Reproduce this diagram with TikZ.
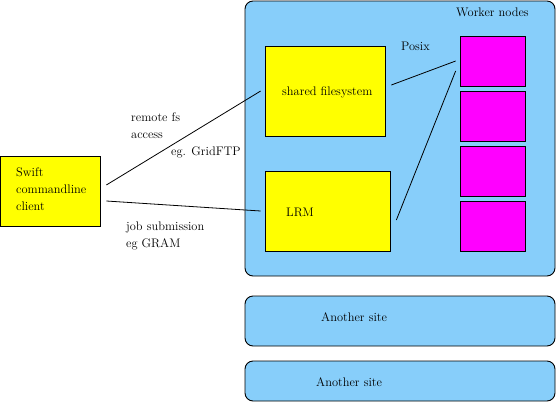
\documentclass[tikz,border=0pt]{standalone}
\usepackage{xcolor}
\usepackage{tikz}
\definecolor{siteblue}{RGB}{135, 206, 250}
\definecolor{boxyellow}{RGB}{255, 255, 0}
\definecolor{workermag}{RGB}{255, 0, 255}

\tikzset{
    sitebox/.style={draw, fill=siteblue, rounded corners=8pt, line width=0.9pt, minimum width=310pt, inner sep=0pt},
    servicebox/.style={draw, fill=boxyellow, line width=0.7pt, inner sep=0pt},
    workerbox/.style={draw, fill=workermag, line width=0.7pt, minimum width=65pt, minimum height=50pt, inner sep=0pt},
    link/.style={line width=0.8pt},
    txt/.style={anchor=west, inner sep=0pt, align=left, font=\fontsize{12.4}{17}\selectfont}
}

\begin{document}
\begin{tikzpicture}[x=1pt, y=-1pt]
            \useasboundingbox (0,0) rectangle (557,402);
            % sites
            \node[sitebox, minimum height=275pt] (site) at (400,138.5) {};
            \node[sitebox, minimum height=50pt] (otherA) at (400,321) {};
            \node[sitebox, minimum height=40pt] (otherB) at (400,381) {};
            \node[txt] at (321,317) {Another site};
            \node[txt] at (316,382) {Another site};
            \node[txt] at (456,12) {Worker nodes};
            % services
            \node[servicebox, minimum width=120pt, minimum height=90pt] (fs) at (325,91) {};
            \node[servicebox, minimum width=125pt, minimum height=80pt] (lrm) at (327.5,211) {};
            \node[txt] at (282,92) {shared filesystem};
            \node[txt] at (286,212) {LRM};
            % worker nodes
            \foreach \i in {1,...,4}
                \node[workerbox] (w\i) at (492.5,6+55*\i) {};
            \node[txt] at (401,46) {Posix};
            % client
            \node[servicebox, minimum width=100pt, minimum height=70pt] (client) at (50,191) {};
            \node[txt] at (16,189) {Swift\\commandline\\client};
            % connectors
            \draw[link] ([shift={(6,-6)}]client.east) -- ([xshift=-4pt]fs.west);
            \draw[link] ([shift={(6,10)}]client.east) -- ([xshift=-4pt]lrm.west);
            \draw[link] ([shift={(6,-6)}]fs.east) -- ([xshift=-4pt]w1.west);
            \draw[link] ([shift={(6,9)}]lrm.east) -- ([shift={(-4,10)}]w1.west);
            \node[txt] at (131,125.5) {remote fs\\access};
            \node[txt] at (171,152) {eg. GridFTP};
            \node[txt] at (126,235.5) {job submission\\eg GRAM};
        \end{tikzpicture}
\end{document}
